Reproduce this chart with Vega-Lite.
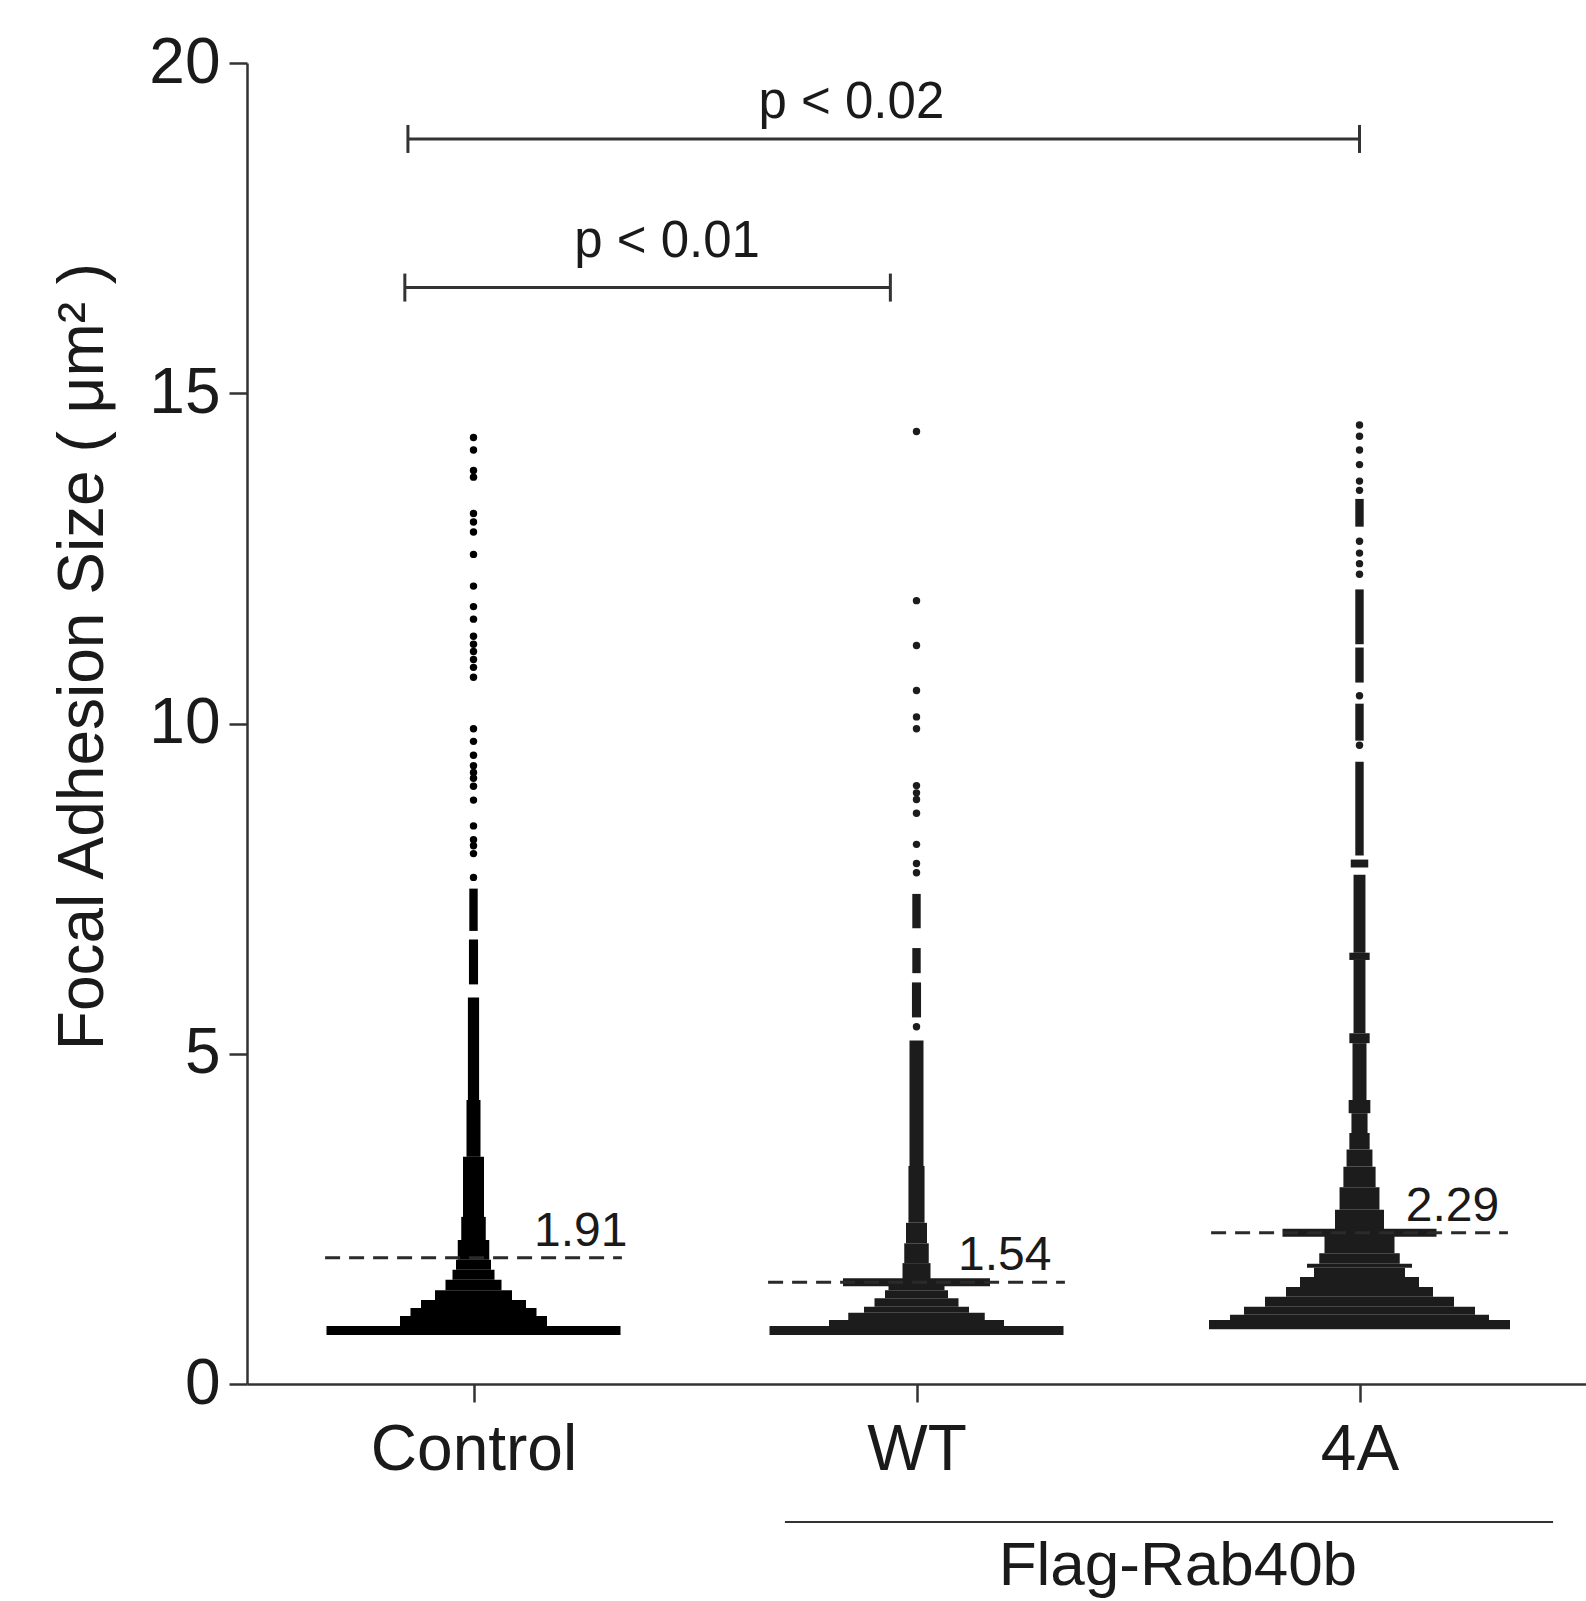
{
  "$schema": "https://vega.github.io/schema/vega-lite/v6.json",
  "autosize": "none",
  "width": 1339,
  "height": 1321,
  "padding": {"left": 247, "top": 63, "right": 0, "bottom": 217},
  "background": "white",
  "config": {
    "view": {"stroke": null},
    "font": "Liberation Sans",
    "axis": {
      "grid": false,
      "domainColor": "#333333",
      "domainWidth": 2.5,
      "tickColor": "#333333",
      "tickWidth": 2.5,
      "tickSize": 18,
      "labelColor": "#1a1a1a",
      "labelFont": "Liberation Sans",
      "labelFontSize": 64,
      "labelLimit": 0,
      "titleFont": "Liberation Sans",
      "titleFontSize": 64,
      "titleFontWeight": "normal",
      "titleColor": "#1a1a1a",
      "titleLimit": 0
    }
  },
  "datasets": {
    "swarm": [
      {"g": "Control", "gi": 0, "lo": 0.74, "hi": 0.88, "n": 42},
      {"g": "Control", "gi": 0, "lo": 0.88, "hi": 1.03, "n": 21},
      {"g": "Control", "gi": 0, "lo": 1.03, "hi": 1.15, "n": 18},
      {"g": "Control", "gi": 0, "lo": 1.15, "hi": 1.27, "n": 15},
      {"g": "Control", "gi": 0, "lo": 1.27, "hi": 1.42, "n": 11},
      {"g": "Control", "gi": 0, "lo": 1.42, "hi": 1.58, "n": 8},
      {"g": "Control", "gi": 0, "lo": 1.58, "hi": 1.73, "n": 6},
      {"g": "Control", "gi": 0, "lo": 1.73, "hi": 1.88, "n": 5},
      {"g": "Control", "gi": 0, "lo": 1.88, "hi": 2.18, "n": 4.5},
      {"g": "Control", "gi": 0, "lo": 2.18, "hi": 2.53, "n": 3.5},
      {"g": "Control", "gi": 0, "lo": 2.53, "hi": 3.44, "n": 3},
      {"g": "Control", "gi": 0, "lo": 3.44, "hi": 4.3, "n": 2},
      {"g": "Control", "gi": 0, "lo": 4.3, "hi": 5.85, "n": 1.6},
      {"g": "Control", "gi": 0, "lo": 6.05, "hi": 6.73, "n": 1.3},
      {"g": "Control", "gi": 0, "lo": 6.86, "hi": 7.5, "n": 1.2},
      {"g": "WT", "gi": 1, "lo": 0.74, "hi": 0.88, "n": 42},
      {"g": "WT", "gi": 1, "lo": 0.88, "hi": 0.97, "n": 25},
      {"g": "WT", "gi": 1, "lo": 0.97, "hi": 1.08, "n": 19.5},
      {"g": "WT", "gi": 1, "lo": 1.08, "hi": 1.17, "n": 15},
      {"g": "WT", "gi": 1, "lo": 1.17, "hi": 1.3, "n": 12},
      {"g": "WT", "gi": 1, "lo": 1.3, "hi": 1.42, "n": 9},
      {"g": "WT", "gi": 1, "lo": 1.42, "hi": 1.5, "n": 8},
      {"g": "WT", "gi": 1, "lo": 1.48, "hi": 1.6, "n": 21},
      {"g": "WT", "gi": 1, "lo": 1.59, "hi": 1.83, "n": 4},
      {"g": "WT", "gi": 1, "lo": 1.83, "hi": 2.13, "n": 3.5},
      {"g": "WT", "gi": 1, "lo": 2.13, "hi": 2.44, "n": 3},
      {"g": "WT", "gi": 1, "lo": 2.44, "hi": 3.3, "n": 2.3},
      {"g": "WT", "gi": 1, "lo": 3.3, "hi": 5.2, "n": 2},
      {"g": "WT", "gi": 1, "lo": 5.55, "hi": 6.08, "n": 1.3},
      {"g": "WT", "gi": 1, "lo": 6.22, "hi": 6.6, "n": 1.2},
      {"g": "WT", "gi": 1, "lo": 6.9, "hi": 7.42, "n": 1.2},
      {"g": "4A", "gi": 2, "lo": 0.83, "hi": 0.97, "n": 43},
      {"g": "4A", "gi": 2, "lo": 0.97, "hi": 1.05, "n": 37},
      {"g": "4A", "gi": 2, "lo": 1.05, "hi": 1.17, "n": 33},
      {"g": "4A", "gi": 2, "lo": 1.17, "hi": 1.32, "n": 27},
      {"g": "4A", "gi": 2, "lo": 1.32, "hi": 1.47, "n": 21},
      {"g": "4A", "gi": 2, "lo": 1.47, "hi": 1.62, "n": 17},
      {"g": "4A", "gi": 2, "lo": 1.62, "hi": 1.76, "n": 13},
      {"g": "4A", "gi": 2, "lo": 1.76, "hi": 1.82, "n": 15},
      {"g": "4A", "gi": 2, "lo": 1.82, "hi": 1.98, "n": 11.5},
      {"g": "4A", "gi": 2, "lo": 1.98, "hi": 2.24, "n": 10},
      {"g": "4A", "gi": 2, "lo": 2.23, "hi": 2.35, "n": 22},
      {"g": "4A", "gi": 2, "lo": 2.34, "hi": 2.64, "n": 7},
      {"g": "4A", "gi": 2, "lo": 2.64, "hi": 2.98, "n": 5.7},
      {"g": "4A", "gi": 2, "lo": 2.98, "hi": 3.29, "n": 4.6},
      {"g": "4A", "gi": 2, "lo": 3.29, "hi": 3.55, "n": 3.7},
      {"g": "4A", "gi": 2, "lo": 3.55, "hi": 3.8, "n": 2.9},
      {"g": "4A", "gi": 2, "lo": 3.8, "hi": 4.1, "n": 2.3},
      {"g": "4A", "gi": 2, "lo": 4.1, "hi": 4.3, "n": 3.1},
      {"g": "4A", "gi": 2, "lo": 4.3, "hi": 5.16, "n": 2},
      {"g": "4A", "gi": 2, "lo": 5.16, "hi": 5.31, "n": 2.9},
      {"g": "4A", "gi": 2, "lo": 5.31, "hi": 6.42, "n": 1.7},
      {"g": "4A", "gi": 2, "lo": 6.42, "hi": 6.53, "n": 2.9},
      {"g": "4A", "gi": 2, "lo": 6.53, "hi": 7.71, "n": 1.7},
      {"g": "4A", "gi": 2, "lo": 7.82, "hi": 7.94, "n": 2.5},
      {"g": "4A", "gi": 2, "lo": 8.0, "hi": 9.42, "n": 1.2},
      {"g": "4A", "gi": 2, "lo": 9.74, "hi": 10.3, "n": 1.2},
      {"g": "4A", "gi": 2, "lo": 10.62, "hi": 11.15, "n": 1.2},
      {"g": "4A", "gi": 2, "lo": 11.2, "hi": 12.03, "n": 1.2},
      {"g": "4A", "gi": 2, "lo": 12.98, "hi": 13.4, "n": 1.2}
    ],
    "dots": [
      {"g": "Control", "gi": 0, "v": 7.67}, {"g": "Control", "gi": 0, "v": 8.03},
      {"g": "Control", "gi": 0, "v": 8.15}, {"g": "Control", "gi": 0, "v": 8.24},
      {"g": "Control", "gi": 0, "v": 8.45}, {"g": "Control", "gi": 0, "v": 8.84},
      {"g": "Control", "gi": 0, "v": 9.05}, {"g": "Control", "gi": 0, "v": 9.17},
      {"g": "Control", "gi": 0, "v": 9.26}, {"g": "Control", "gi": 0, "v": 9.36},
      {"g": "Control", "gi": 0, "v": 9.52}, {"g": "Control", "gi": 0, "v": 9.73},
      {"g": "Control", "gi": 0, "v": 9.92}, {"g": "Control", "gi": 0, "v": 10.7},
      {"g": "Control", "gi": 0, "v": 10.85}, {"g": "Control", "gi": 0, "v": 10.97},
      {"g": "Control", "gi": 0, "v": 11.09}, {"g": "Control", "gi": 0, "v": 11.2},
      {"g": "Control", "gi": 0, "v": 11.32}, {"g": "Control", "gi": 0, "v": 11.58},
      {"g": "Control", "gi": 0, "v": 11.77}, {"g": "Control", "gi": 0, "v": 12.08},
      {"g": "Control", "gi": 0, "v": 12.56}, {"g": "Control", "gi": 0, "v": 12.9},
      {"g": "Control", "gi": 0, "v": 13.05}, {"g": "Control", "gi": 0, "v": 13.18},
      {"g": "Control", "gi": 0, "v": 13.73}, {"g": "Control", "gi": 0, "v": 13.83},
      {"g": "Control", "gi": 0, "v": 14.14}, {"g": "Control", "gi": 0, "v": 14.33},
      {"g": "WT", "gi": 1, "v": 5.41}, {"g": "WT", "gi": 1, "v": 7.74},
      {"g": "WT", "gi": 1, "v": 7.88}, {"g": "WT", "gi": 1, "v": 8.17},
      {"g": "WT", "gi": 1, "v": 8.64}, {"g": "WT", "gi": 1, "v": 8.85},
      {"g": "WT", "gi": 1, "v": 8.95}, {"g": "WT", "gi": 1, "v": 9.06},
      {"g": "WT", "gi": 1, "v": 9.92}, {"g": "WT", "gi": 1, "v": 10.1},
      {"g": "WT", "gi": 1, "v": 10.5}, {"g": "WT", "gi": 1, "v": 11.18},
      {"g": "WT", "gi": 1, "v": 11.86}, {"g": "WT", "gi": 1, "v": 14.42},
      {"g": "4A", "gi": 2, "v": 9.67}, {"g": "4A", "gi": 2, "v": 10.42},
      {"g": "4A", "gi": 2, "v": 12.26}, {"g": "4A", "gi": 2, "v": 12.42},
      {"g": "4A", "gi": 2, "v": 12.58}, {"g": "4A", "gi": 2, "v": 12.76},
      {"g": "4A", "gi": 2, "v": 13.53}, {"g": "4A", "gi": 2, "v": 13.67},
      {"g": "4A", "gi": 2, "v": 13.92}, {"g": "4A", "gi": 2, "v": 14.14},
      {"g": "4A", "gi": 2, "v": 14.35}, {"g": "4A", "gi": 2, "v": 14.52}
    ],
    "means": [
      {"g": "Control", "mean": 1.91, "x1": -0.335, "x2": 0.335, "lx": 0.242},
      {"g": "WT", "mean": 1.54, "x1": 0.665, "x2": 1.335, "lx": 1.199},
      {"g": "4A", "mean": 2.29, "x1": 1.665, "x2": 2.335, "lx": 2.21}
    ],
    "brackets": [
      {"label": "p < 0.02", "x1": -0.148, "x2": 2.0, "y": 18.85, "lx": 0.853, "ly": 19.16},
      {"label": "p < 0.01", "x1": -0.155, "x2": 0.941, "y": 16.6, "lx": 0.437, "ly": 17.06}
    ],
    "group": [
      {"label": "Flag-Rab40b", "x1": 0.703, "x2": 2.437, "y": -2.09, "lx": 1.59, "ly": -3.05}
    ]
  },
  "layer": [
    {
      "data": {"name": "swarm"},
      "mark": {"type": "bar", "orient": "vertical"},
      "encoding": {
        "x": {
          "field": "gi", "type": "quantitative",
          "scale": {"domain": [-0.5, 2.5], "nice": false, "zero": false},
          "axis": {
            "title": null,
            "values": [0, 1, 2],
            "labelExpr": "datum.value == 0 ? 'Control' : datum.value == 1 ? 'WT' : '4A'",
            "labelPadding": 16,
            "labelLimit": 0,
            "labelFlush": false,
            "labelOverlap": false
          }
        },
        "y": {
          "field": "lo", "type": "quantitative",
          "scale": {"domain": [0, 20], "nice": false, "zero": false},
          "axis": {
            "title": "Focal Adhesion Size ( μm² )",
            "values": [0, 5, 10, 15, 20],
            "format": "d",
            "labelPadding": 9,
            "titleAngle": -90,
            "titleX": -145,
            "titleY": 593,
            "titleAlign": "center",
            "titleBaseline": "alphabetic"
          }
        },
        "y2": {"field": "hi"},
        "size": {
          "field": "n", "type": "quantitative",
          "scale": {"type": "linear", "domain": [0, 100], "range": [0, 700]},
          "legend": null
        },
        "color": {
          "field": "g", "type": "nominal",
          "scale": {"domain": ["Control", "WT", "4A"], "range": ["#000000", "#1c1c1c", "#1c1c1c"]},
          "legend": null
        }
      }
    },
    {
      "data": {"name": "dots"},
      "mark": {"type": "circle", "size": 55, "opacity": 1},
      "encoding": {
        "x": {"field": "gi", "type": "quantitative"},
        "y": {"field": "v", "type": "quantitative"},
        "color": {"field": "g", "type": "nominal", "legend": null}
      }
    },
    {
      "data": {"name": "means"},
      "mark": {"type": "rule", "strokeDash": [15, 9], "strokeWidth": 3, "color": "#2a2a2a"},
      "encoding": {
        "x": {"field": "x1", "type": "quantitative"},
        "x2": {"field": "x2"},
        "y": {"field": "mean", "type": "quantitative"}
      }
    },
    {
      "data": {"name": "means"},
      "mark": {"type": "text", "fontSize": 48, "baseline": "alphabetic", "align": "center", "dy": -12, "color": "#1a1a1a", "font": "Liberation Sans"},
      "encoding": {
        "x": {"field": "lx", "type": "quantitative"},
        "y": {"field": "mean", "type": "quantitative"},
        "text": {"field": "mean", "type": "quantitative", "format": ".2f"}
      }
    },
    {
      "data": {"name": "brackets"},
      "mark": {"type": "rule", "strokeWidth": 3, "color": "#333333"},
      "encoding": {
        "x": {"field": "x1", "type": "quantitative"},
        "x2": {"field": "x2"},
        "y": {"field": "y", "type": "quantitative"}
      }
    },
    {
      "data": {"name": "brackets"},
      "mark": {"type": "tick", "orient": "vertical", "thickness": 3, "size": 28, "color": "#333333", "opacity": 1},
      "encoding": {
        "x": {"field": "x1", "type": "quantitative"},
        "y": {"field": "y", "type": "quantitative"}
      }
    },
    {
      "data": {"name": "brackets"},
      "mark": {"type": "tick", "orient": "vertical", "thickness": 3, "size": 28, "color": "#333333", "opacity": 1},
      "encoding": {
        "x": {"field": "x2", "type": "quantitative"},
        "y": {"field": "y", "type": "quantitative"}
      }
    },
    {
      "data": {"name": "brackets"},
      "mark": {"type": "text", "fontSize": 51, "baseline": "alphabetic", "align": "center", "color": "#1a1a1a", "font": "Liberation Sans"},
      "encoding": {
        "x": {"field": "lx", "type": "quantitative"},
        "y": {"field": "ly", "type": "quantitative"},
        "text": {"field": "label", "type": "nominal"}
      }
    },
    {
      "data": {"name": "group"},
      "mark": {"type": "rule", "strokeWidth": 2, "color": "#333333"},
      "encoding": {
        "x": {"field": "x1", "type": "quantitative"},
        "x2": {"field": "x2"},
        "y": {"field": "y", "type": "quantitative"}
      }
    },
    {
      "data": {"name": "group"},
      "mark": {"type": "text", "fontSize": 62, "baseline": "alphabetic", "align": "center", "color": "#1a1a1a", "font": "Liberation Sans"},
      "encoding": {
        "x": {"field": "lx", "type": "quantitative"},
        "y": {"field": "ly", "type": "quantitative"},
        "text": {"field": "label", "type": "nominal"}
      }
    }
  ]
}
